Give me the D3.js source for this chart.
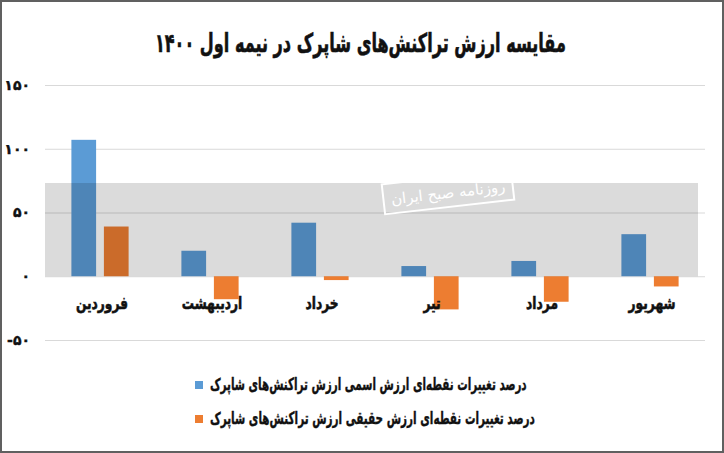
<!DOCTYPE html>
<html><head><meta charset="utf-8">
<script src="https://cdn.jsdelivr.net/npm/d3@7"></script>
<style>
html,body{margin:0;padding:0;background:#fff;}
svg{display:block;font-family:"DejaVu Sans",sans-serif;}
</style></head>
<body>
<svg id="c" width="724" height="453"></svg>
<script>
const title = "مقایسه ارزش تراکنش‌های شاپرک در نیمه اول ۱۴۰۰";
const categories = ["فروردین","اردیبهشت","خرداد","تیر","مرداد","شهریور"];
const seriesNames = ["درصد تغییرات نقطه‌ای ارزش اسمی ارزش تراکنش‌های شاپرک","درصد تغییرات نقطه‌ای ارزش حقیقی ارزش تراکنش‌های شاپرک"];
const nominal = [107, 20, 42, 8, 12, 33];
const real = [39, -18, -3, -26, -20, -8];
const yTicks = [-50, 0, 50, 100, 150];
const colors = ["#5b9bd5", "#ed7d31"];

const fa = n => String(n).replace(/\d/g, d => "۰۱۲۳۴۵۶۷۸۹"[d]);
const svg = d3.select("#c");

const x0 = d3.scaleBand().domain(categories).range([45, 705]).paddingInner(0.48).paddingOuter(0.24);
const x1 = d3.scaleBand().domain([0,1]).range([0, x0.bandwidth()]).paddingInner(0.24);
const y = d3.scaleLinear().domain([-50, 150]).range([340, 85]);

// gridlines
const ax = svg.append("g").attr("transform","translate(45,0)")
  .call(d3.axisRight(y).tickValues(yTicks).tickSize(660).tickFormat(""));
ax.select(".domain").remove();
ax.selectAll(".tick text").remove();
ax.selectAll(".tick line").attr("stroke","#d9d9d9").attr("stroke-width",1);
// tick labels
const lab = svg.append("g").attr("transform","translate(30,0)")
  .call(d3.axisLeft(y).tickValues(yTicks).tickSize(0).tickPadding(0).tickFormat(d => (d<0?"-":"") + fa(Math.abs(d))));
lab.select(".domain").remove();
lab.selectAll(".tick line").remove();
lab.selectAll("text").attr("font-family","DejaVu Sans").attr("font-weight","bold").attr("font-size",14)
  .attr("fill","#111").attr("stroke","#111").attr("stroke-width",0.4).attr("direction","ltr");

// bars
const data = categories.map((c,i)=>({c, v:[nominal[i], real[i]]}));
const g = svg.append("g");
data.forEach(d=>{
  d.v.forEach((v,k)=>{
    g.append("rect")
      .attr("x", x0(d.c) + x1(k))
      .attr("width", x1.bandwidth())
      .attr("y", y(Math.max(0,v)))
      .attr("height", Math.abs(y(v) - y(0)))
      .attr("fill", colors[k]);
  });
});

// watermark band
svg.append("rect").attr("x",45).attr("y",183).attr("width",653).attr("height",y(0)-183)
  .attr("fill","#000").attr("opacity",0.14);
const wm = svg.append("g").attr("transform","translate(448,192) rotate(-6.5)");
wm.append("rect").attr("x",-65).attr("y",-15).attr("width",130).attr("height",30).attr("fill","none").attr("stroke","#fff").attr("stroke-width",2);
wm.append("text").text("روزنامه صبح ایران").attr("text-anchor","middle").attr("y",6).attr("font-size",15).attr("fill","#fff");

// category labels (condensed bold)
svg.append("g").selectAll("text").data(categories).join("text")
  .attr("transform", d => `translate(${x0(d) + x0.bandwidth()/2 + 2},309) scale(0.72,1)`)
  .attr("text-anchor","middle")
  .attr("font-size",17).attr("font-weight","bold").attr("fill","#111")
  .attr("stroke","#111").attr("stroke-width",0.6).text(d=>d);

// condensed text helper: place text so its left edge is at x and width is w
function condensed(sel, str, x, yb, size, w, sw){
  const t = sel.append("text").text(str).attr("font-size",size).attr("font-weight","bold")
    .attr("fill","#111").attr("stroke","#111").attr("stroke-width",sw);
  const nw = t.node().getComputedTextLength();
  t.attr("transform",`translate(${x},${yb}) scale(${w/nw},1)`);
  return t;
}

// title
condensed(svg, title, 155, 52, 26, 411, 0.6);

// legend
const lg = svg.append("g");
seriesNames.forEach((s,i)=>{
  const yy = 381 + i*34;
  lg.append("rect").attr("x",195).attr("y",yy).attr("width",8).attr("height",8).attr("fill",colors[i]);
  condensed(lg, s, 210, yy+9, 17, i===0?317:325, 0.4);
});

// frame
svg.append("rect").attr("x",1).attr("y",1).attr("width",722).attr("height",451).attr("fill","none").attr("stroke","#606060").attr("stroke-width",2);
</script>
</body></html>
